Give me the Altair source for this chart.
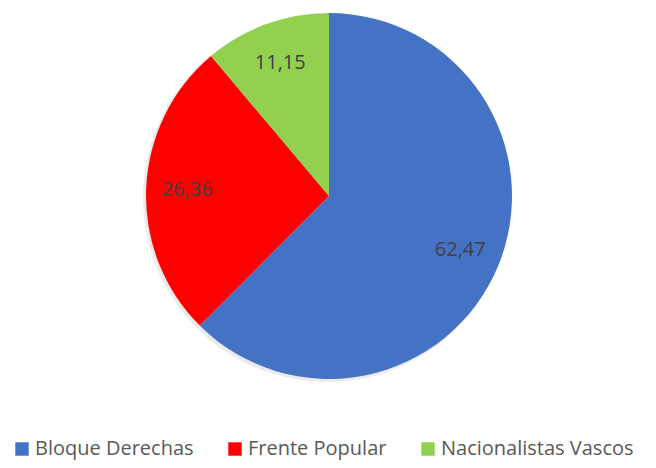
import altair as alt
import pandas as pd

categories = ["Bloque Derechas", "Frente Popular", "Nacionalistas Vascos"]
values = [62.47, 26.36, 11.15]
labels = ["62,47", "26,36", "11,15"]
colors = ["#4472C4", "#FF0000", "#92D050"]

df = pd.DataFrame({
    "cat": categories,
    "value": values,
    "label": labels,
    "ord": list(range(len(categories))),
})

FONT = "Open Sans"
cx, cy = 321, 188

base = alt.Chart(df).encode(
    theta=alt.Theta("value:Q", stack=True),
    order=alt.Order("ord:Q"),
)

shadow = alt.Chart(df).mark_arc(radius=184, color="#000000", opacity=0.08).encode(
    theta=alt.Theta("value:Q", stack=True),
    order=alt.Order("ord:Q"),
    x=alt.value(cx - 2),
    y=alt.value(cy + 2),
)

pie = base.mark_arc(radius=183).encode(
    color=alt.Color(
        "cat:N",
        scale=alt.Scale(domain=categories, range=colors),
        sort=categories,
        legend=alt.Legend(
            title=None,
            orient="none",
            legendX=4,
            legendY=431,
            direction="horizontal",
            symbolType="square",
            symbolSize=180,
            symbolStrokeWidth=0,
            labelFont=FONT,
            labelFontSize=20,
            labelColor="#595959",
            labelLimit=400,
            columnPadding=31,
            symbolOffset=0,
            labelOffset=3,
            padding=0,
        ),
    ),
    x=alt.value(cx),
    y=alt.value(cy),
)

text = base.mark_text(radius=142, font=FONT, fontSize=20, color="#404040").encode(
    text="label:N",
    x=alt.value(cx),
    y=alt.value(cy),
)

chart = alt.layer(shadow, pie, text).properties(
    width=640,
    height=452,
    padding=0,
    autosize=alt.AutoSizeParams(type="none"),
).configure_view(stroke=None)

chart.save("out.html", embed_options={"renderer": "svg", "actions": False})
